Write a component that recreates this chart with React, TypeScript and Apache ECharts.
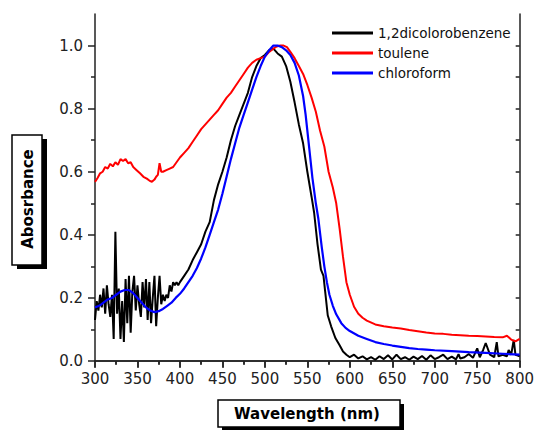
import React, { useEffect, useRef } from "react";
import * as echarts from "echarts";

// ---------- data ----------
const seriesNames = ["1,2dicolorobenzene", "toulene", "chloroform"];

const dcbWavelength = [
  300, 302, 304, 306, 308, 310, 312, 314, 316, 318, 320, 322, 324, 326, 328, 330, 332, 334, 336, 338,
  340, 342, 344, 346, 348, 350, 352, 354, 356, 358, 360, 362, 364, 366, 368, 370, 372, 374, 376, 378,
  380, 382, 384, 386, 388, 390, 392, 394, 396, 398, 400, 405, 410, 415, 420, 425, 430, 435, 440, 445,
  450, 455, 460, 465, 470, 475, 480, 485, 490, 495, 500, 505, 510, 515, 520, 525, 530, 535, 540, 545,
  550, 555, 558, 562, 566, 569, 571, 574, 578, 583, 588, 592, 596, 600, 605, 610, 615, 620, 625, 630,
  635, 640, 645, 650, 655, 660, 665, 670, 675, 680, 685, 690, 695, 700, 705, 710, 715, 720, 725, 728,
  730, 735, 740, 745, 750, 753, 757, 760, 765, 770, 773, 775, 780, 785, 787, 790, 793, 795, 797, 800,
];
const dcbAbsorbance = [
  0.13, 0.19, 0.16, 0.21, 0.17, 0.23, 0.15, 0.24, 0.18, 0.14, 0.21, 0.07, 0.41, 0.15, 0.23, 0.07, 0.19, 0.06, 0.26, 0.12,
  0.27, 0.09, 0.22, 0.27, 0.16, 0.24, 0.18, 0.14, 0.25, 0.17, 0.26, 0.13, 0.25, 0.12, 0.2, 0.27, 0.11, 0.2, 0.27, 0.18,
  0.21, 0.19, 0.21, 0.2, 0.24, 0.22, 0.25, 0.24, 0.25, 0.24, 0.25, 0.27, 0.29, 0.32, 0.345, 0.37, 0.41, 0.44, 0.51, 0.56,
  0.6, 0.645, 0.7, 0.745, 0.78, 0.815, 0.85, 0.9, 0.935, 0.96, 0.97, 0.985, 0.99, 0.975, 0.965, 0.935, 0.885, 0.82, 0.75, 0.69,
  0.6, 0.52, 0.47, 0.37, 0.29, 0.27, 0.22, 0.145, 0.11, 0.073, 0.05, 0.03, 0.02, 0.012, 0.02, 0.008, 0.015, 0.005, 0.012, 0.004,
  0.015, 0.006, 0.018, 0.005, 0.02, 0.006, 0.012, 0.004, 0.014, 0.006, 0.016, 0.004, 0.018, 0.006, 0.012, 0.02, 0.006, 0.014, 0.005, 0.022,
  0.008, 0.012, 0.022, 0.01, 0.04, 0.012, 0.035, 0.057, 0.02, 0.012, 0.06, 0.015, 0.02, 0.015, 0.035, 0.02, 0.067, 0.02, 0.018, 0.015,
];

const tolWavelength = [
  300, 303, 306, 309, 312, 315, 318, 321, 324, 327, 330, 333, 336, 339, 342, 345, 349, 353, 357, 361,
  364, 367, 370, 372, 374, 376, 378, 380, 384, 388, 392, 396, 400, 405, 410, 415, 420, 425, 430, 435,
  440, 445, 450, 455, 460, 465, 470, 475, 480, 485, 490, 495, 500, 505, 510, 514, 518, 522, 526, 530,
  535, 540, 545, 550, 555, 560, 565, 570, 575, 580, 584, 588, 592, 596, 600, 605, 610, 615, 620, 630,
  640, 650, 660, 670, 680, 690, 700, 710, 720, 730, 740, 750, 760, 770, 780, 785, 790, 795, 800,
];
const tolAbsorbance = [
  0.568, 0.58, 0.595, 0.6, 0.615, 0.61, 0.625, 0.617, 0.63, 0.622, 0.64, 0.634, 0.64, 0.627, 0.63, 0.615, 0.605, 0.595, 0.584, 0.578,
  0.572, 0.568, 0.575, 0.584, 0.59, 0.627, 0.6, 0.6, 0.605, 0.61, 0.615, 0.63, 0.645, 0.66, 0.675, 0.695, 0.715, 0.735, 0.75, 0.765,
  0.78, 0.795, 0.815, 0.835, 0.85, 0.87, 0.89, 0.91, 0.93, 0.945, 0.955, 0.96, 0.965, 0.98, 0.99, 0.997, 1.0, 1.0, 0.995, 0.98,
  0.96, 0.935, 0.91, 0.875, 0.835, 0.79, 0.73, 0.68, 0.6, 0.55, 0.5, 0.42, 0.33, 0.25, 0.21, 0.172, 0.15, 0.137, 0.128, 0.116,
  0.11, 0.106, 0.103, 0.098, 0.094, 0.09, 0.087, 0.086, 0.083, 0.082, 0.08, 0.079, 0.078, 0.076, 0.075, 0.08, 0.068, 0.062, 0.07,
];

const chlWavelength = [
  300, 305, 310, 315, 320, 325, 330, 335, 340, 345, 350, 355, 360, 365, 370, 375, 380, 385, 390, 395,
  400, 405, 410, 415, 420, 425, 430, 435, 440, 445, 450, 455, 460, 465, 470, 475, 480, 485, 490, 495,
  500, 505, 510, 515, 520, 525, 530, 535, 540, 545, 548, 552, 556, 560, 563, 567, 570, 573, 576, 580,
  584, 590, 595, 600, 610, 620, 630, 640, 650, 660, 670, 680, 690, 700, 720, 740, 760, 780, 800,
];
const chlAbsorbance = [
  0.17, 0.175, 0.185, 0.195, 0.2, 0.21, 0.22, 0.225, 0.225, 0.215, 0.2, 0.185, 0.17, 0.16, 0.155, 0.158, 0.165, 0.175, 0.185, 0.2,
  0.213, 0.23, 0.25, 0.27, 0.295, 0.325, 0.36, 0.4, 0.44, 0.48, 0.53, 0.585, 0.64, 0.69, 0.74, 0.78, 0.82, 0.86, 0.9, 0.935,
  0.965, 0.985, 1.0, 1.0, 0.995, 0.985, 0.97, 0.945, 0.905, 0.84, 0.78, 0.68, 0.58, 0.5, 0.45, 0.36, 0.3, 0.25, 0.21, 0.175,
  0.148, 0.12, 0.105, 0.095, 0.08, 0.07, 0.06, 0.054, 0.049, 0.045, 0.041, 0.038, 0.036, 0.034, 0.031, 0.028, 0.026, 0.023, 0.02,
];

const yMajorTicks = [0, 0.2, 0.4, 0.6, 0.8, 1.0];
const yMinorTicks = [0.1, 0.3, 0.5, 0.7, 0.9];
const yRightTicks = [0.1, 0.2, 0.3, 0.4, 0.5, 0.6, 0.7, 0.8, 0.9, 1.0];

const xAxisTitle = "Wavelength (nm)";
const yAxisTitle = "Abosrbance";

const zip = (xs: number[], ys: number[]) => xs.map((x, i) => [x, ys[i]]);

export default function App() {
  const ref = useRef<HTMLDivElement>(null);

  useEffect(() => {
    if (!ref.current) return;
    const chart = echarts.init(ref.current, null, { renderer: "svg" });
    const font = "DejaVu Sans";
    const axisColor = "#222";
    const lineStyleAxis = { color: axisColor, width: 1.5 };

    const option: any = {
      animation: false,
      backgroundColor: "#fff",
      grid: { left: 95, right: 16, top: 14, bottom: 69, containLabel: false },
      legend: {
        data: seriesNames,
        orient: "vertical",
        left: 332,
        top: 26,
        icon: "rect",
        itemWidth: 41,
        itemHeight: 3,
        itemGap: 6,
        padding: 0,
        selectedMode: false,
        textStyle: { fontFamily: font, fontSize: 13.5, color: "#111", lineHeight: 14 },
      },
      xAxis: [
        {
          type: "value",
          position: "bottom",
          min: 300,
          max: 800,
          interval: 50,
          axisLine: { lineStyle: lineStyleAxis },
          axisTick: { show: true, inside: false, length: 7, lineStyle: lineStyleAxis },
          minorTick: { show: true, splitNumber: 2, length: 4, lineStyle: lineStyleAxis },
          axisLabel: { fontFamily: font, fontSize: 15, color: axisColor, margin: 10 },
          splitLine: { show: false },
        },
        {
          type: "value",
          position: "top",
          min: 300,
          max: 800,
          interval: 50,
          axisLine: { lineStyle: lineStyleAxis },
          axisTick: { show: true, inside: true, length: 6, lineStyle: lineStyleAxis },
          minorTick: { show: true, splitNumber: 2, length: 3, lineStyle: lineStyleAxis },
          axisLabel: { show: false },
          splitLine: { show: false },
        },
      ],
      yAxis: [
        {
          type: "value",
          position: "left",
          min: 0,
          max: 1.1,
          axisLine: { lineStyle: lineStyleAxis },
          axisTick: { show: true, inside: false, length: 7, customValues: yMajorTicks, lineStyle: lineStyleAxis },
          axisLabel: {
            customValues: yMajorTicks,
            formatter: (v: number) => v.toFixed(1),
            fontFamily: font,
            fontSize: 15,
            color: axisColor,
            margin: 12,
          },
          splitLine: { show: false },
        },
        {
          type: "value",
          position: "left",
          min: 0,
          max: 1.1,
          axisLine: { show: false },
          axisTick: { show: true, inside: false, length: 4, customValues: yMinorTicks, lineStyle: lineStyleAxis },
          axisLabel: { show: false },
          splitLine: { show: false },
        },
        {
          type: "value",
          position: "right",
          min: 0,
          max: 1.1,
          axisLine: { lineStyle: lineStyleAxis },
          axisTick: { show: true, inside: true, length: 4, customValues: yRightTicks, lineStyle: lineStyleAxis },
          axisLabel: { show: false },
          splitLine: { show: false },
        },
      ],
      series: [
        {
          name: seriesNames[0],
          type: "line",
          data: zip(dcbWavelength, dcbAbsorbance),
          symbol: "none",
          lineStyle: { color: "#000", width: 2 },
          itemStyle: { color: "#000" },
          z: 2,
        },
        {
          name: seriesNames[1],
          type: "line",
          data: zip(tolWavelength, tolAbsorbance),
          symbol: "none",
          lineStyle: { color: "#ff0000", width: 2 },
          itemStyle: { color: "#ff0000" },
          z: 3,
        },
        {
          name: seriesNames[2],
          type: "line",
          data: zip(chlWavelength, chlAbsorbance),
          symbol: "none",
          lineStyle: { color: "#0000ff", width: 2.2 },
          itemStyle: { color: "#0000ff" },
          z: 4,
        },
      ],
      graphic: [
        { type: "rect", shape: { x: 17, y: 139, width: 30, height: 130 }, style: { fill: "#000" }, silent: true },
        {
          type: "rect",
          shape: { x: 12, y: 135, width: 30, height: 130 },
          style: { fill: "#fff", stroke: "#000", lineWidth: 1.5 },
          silent: true,
        },
        {
          type: "text",
          x: 27.5,
          y: 199,
          rotation: Math.PI / 2,
          style: {
            text: yAxisTitle,
            font: `bold 15px "${font}"`,
            fill: "#000",
            align: "center",
            verticalAlign: "middle",
          },
          silent: true,
        },
        { type: "rect", shape: { x: 222, y: 404, width: 182, height: 27 }, style: { fill: "#000" }, silent: true },
        {
          type: "rect",
          shape: { x: 218, y: 400, width: 182, height: 27 },
          style: { fill: "#fff", stroke: "#000", lineWidth: 1.5 },
          silent: true,
        },
        {
          type: "text",
          x: 307,
          y: 414,
          style: {
            text: xAxisTitle,
            font: `bold 15px "${font}"`,
            fill: "#000",
            align: "center",
            verticalAlign: "middle",
          },
          silent: true,
        },
      ],
    };

    chart.setOption(option);
    return () => chart.dispose();
  }, []);

  return (
    <div
      ref={ref}
      style={{ position: "fixed", left: 0, top: 0, width: 537, height: 430, background: "#fff" }}
    />
  );
}
